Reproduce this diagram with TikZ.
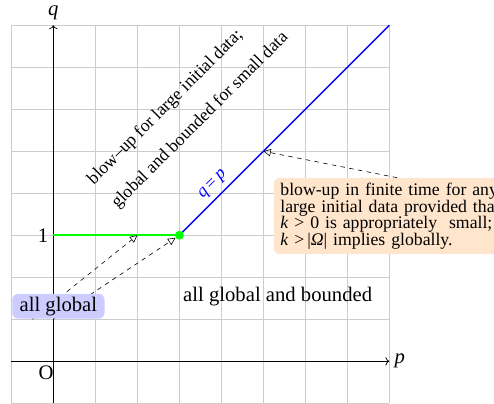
\documentclass[tikz,border=0pt]{standalone}
\usepackage{fontspec}
\setmainfont{Liberation Serif}
\usetikzlibrary{arrows.meta}

\begin{document}
\begin{tikzpicture}[
    big/.style={font=\fontsize{14}{16}\selectfont},
    med/.style={font=\fontsize{12}{14}\selectfont},
    note/.style={fill=orange!20,rounded corners=4pt,align=left,text width=158pt,inner xsep=4.5pt,minimum height=1.8cm,font=\fontsize{12}{11.3}\selectfont},
    tag/.style={fill=blue!20,rounded corners=4pt,inner xsep=5pt,inner ysep=2pt,big},
    slant/.style={rotate=45,anchor=base west,inner sep=0pt,med},
    dasharr/.style={dashed,-{Triangle[open,length=5pt,width=5pt]}},
    axis/.style={->,line width=0.5pt}
]
\useasboundingbox (-1.27,-1) rectangle (10.49,8.6);
\draw[gray!40,line width=0.6pt] (-1,-1) grid (8,8);

\coordinate (pstart) at (-1,0);
\coordinate (pend) at (8,0);
\coordinate (qstart) at (0,-1);
\coordinate (qend) at (0,8);
\draw[axis] (pstart) -- (pend);
\draw[axis] (qstart) -- (qend);
\node[right,big] (plabel) at (pend) {\textit{p}};
\node[above,big] (qlabel) at (qend) {\textit{q}};
\node[big] (origin) at (-0.17,-0.27) {O};

\coordinate (level) at (0,3);
\coordinate (corner) at (3,3);
\coordinate (top) at (8,8);
\coordinate (half) at (2,3);
\node[left,big] (onelabel) at (level) {1};
\draw[blue,line width=1pt] (corner) -- (top)
    node[pos=0.2,sloped,above,med] (diag) {\textit{q}\,=\,\textit{p}};
\draw[color=green,line width=1.1pt] (level) -- (corner);
\node[circle,fill=green,inner sep=0pt,minimum size=6pt] (dot) at (corner) {};

\coordinate (from1) at (-0.5,1);
\coordinate (from2) at (0,1);
\draw[dasharr] (from1) -- (half);
\draw[dasharr] (from2) -- (dot);
\node[tag] (allglobal) at (0.12,1.31) {all global};

\node[slant] (upper) at (0.96,4.19) {blow--up for large initial data;};
\node[slant] (lower) at (1.53,3.62) {global and bounded for small data};
\node[big,anchor=base] (region) at (5.34,1.42) {all global and bounded};

\node[note,anchor=north west] (remark) at (5.24,4.37) {blow-up in finite time for any\\
large initial data provided that\\
\textit{k} > 0 is appropriately \ small;\\
\textit{k} >\,|\textit{Ω}| implies globally.};
\coordinate (hit) at (5,5);
\draw[dasharr] (remark.north) -- (hit);
\end{tikzpicture}
\end{document}
